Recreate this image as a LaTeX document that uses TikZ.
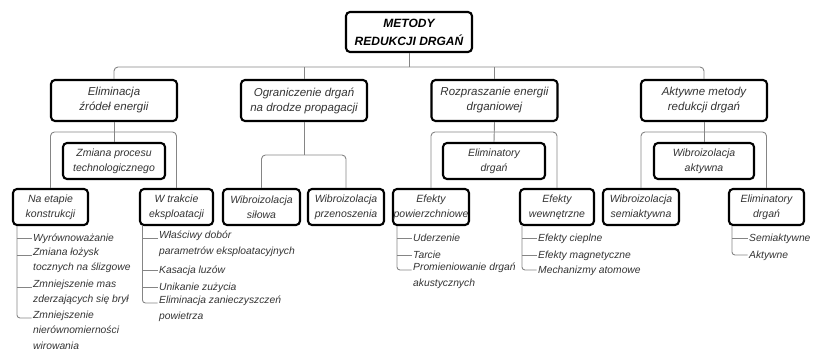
\documentclass[tikz,border=0pt]{standalone}
\usepackage{fontspec}
\setmainfont{Liberation Sans}
\definecolor{txt}{HTML}{333333}
\definecolor{cl}{HTML}{858585}
\begin{document}
\begin{tikzpicture}[x=1pt,y=-1pt,
  box/.style={draw=black, line width=2.1pt, rounded corners=4pt, fill=white, align=center, inner sep=0pt, text=txt},
  topbox/.style={box, text=black, minimum width=126pt, minimum height=40pt, font=\fontsize{12}{18}\selectfont\bfseries\itshape},
  lone/.style={box, minimum height=41pt, minimum width=126pt, font=\fontsize{11.5}{15}\selectfont\itshape},
  ltwo/.style={box, minimum height=36pt, font=\fontsize{10.5}{15}\selectfont\itshape},
  lthree/.style={box, minimum height=36pt, font=\fontsize{10.5}{15}\selectfont\itshape},
  conn/.style={draw=cl, line width=0.9pt, rounded corners=4pt},
  item/.style={anchor=north west, yshift=7.25pt, inner sep=0pt, align=left, text=txt, font=\fontsize{10.3}{15.5}\selectfont\itshape, execute at begin node=\strut},
]
\useasboundingbox (0,0) rectangle (819,354);

% ---- boxes
\node[topbox] (top) at (409,32) {METODY\\REDUKCJI DRGAŃ};

\node[lone] (e1) at (114,100.5) {Eliminacja\\źródeł energii};
\node[lone] (e2) at (304,100.5) {Ograniczenie drgań\\na drodze propagacji};
\node[lone] (e3) at (494.5,100.5) {Rozpraszanie energii\\drganiowej};
\node[lone] (e4) at (704,100.5) {Aktywne metody\\redukcji drgań};

\node[ltwo, minimum width=102pt] (z1) at (114,161) {Zmiana procesu\\technologicznego};
\node[ltwo, minimum width=102pt] (z3) at (494,161) {Eliminatory\\drgań};
\node[ltwo, minimum width=100pt] (z4) at (704,161) {Wibroizolacja\\aktywna};

\node[lthree, minimum width=75pt] (n1) at (50.5,207) {Na etapie\\konstrukcji};
\node[lthree, minimum width=73pt] (w1) at (176.5,207) {W trakcie\\eksploatacji};
\node[lthree, minimum width=77pt] (s1) at (261.5,207) {Wibroizolacja\\siłowa};
\node[lthree, minimum width=76pt] (p1) at (346,207) {Wibroizolacja\\przenoszenia};
\node[lthree, minimum width=76pt] (c0) at (431,207) {Efekty\\powierzchniowe};
\node[lthree, minimum width=74pt] (d0) at (557,207) {Efekty\\wewnętrzne};
\node[lthree, minimum width=76pt] (sa) at (641,207) {Wibroizolacja\\semiaktywna};
\node[lthree, minimum width=75pt] (ed) at (766.5,207) {Eliminatory\\drgań};

% ---- list items
\node[item] (a1) at (33,238) {Wyrównoważanie};
\node[item] (a2) at (33,255) {Zmiana łożysk\\tocznych na ślizgowe};
\node[item] (a3) at (33,287) {Zmniejszenie mas\\zderzających się brył};
\node[item] (a4) at (33,318) {Zmniejszenie\\nierównomierności\\wirowania};

\node[item] (b1) at (159,238) {Właściwy dobór\\parametrów eksploatacyjnych};
\node[item] (b2) at (159,270) {Kasacja luzów};
\node[item] (b3) at (159,287) {Unikanie zużycia};
\node[item] (b4) at (159,303) {Eliminacja zanieczyszczeń\\powietrza};

\node[item] (c1) at (413,238) {Uderzenie};
\node[item] (c2) at (413,255) {Tarcie};
\node[item] (c3) at (413,270) {Promieniowanie drgań\\akustycznych};

\node[item] (d1) at (538,238) {Efekty cieplne};
\node[item] (d2) at (538,255) {Efekty magnetyczne};
\node[item] (d3) at (538,270) {Mechanizmy atomowe};

\node[item] (g1) at (749,238) {Semiaktywne};
\node[item] (g2) at (749,255) {Aktywne};

% ---- main connectors
\coordinate (bus) at (409,67);
\draw[conn] (top.south) -- (bus);
\draw[conn] (e1.north) |- (bus) -| (e4.north);
\draw[conn] (e2.north) -- (e2.north |- bus);
\draw[conn] (e3.north) -- (e3.north |- bus);

% ---- group 1
\coordinate (f1) at (114,132);
\draw[conn] (e1.south) -- (z1.north);
\draw[conn] (n1.north) |- (f1) -| (w1.north);
% ---- group 2
\coordinate (f2) at (304,155);
\draw[conn] (e2.south) -- (f2);
\draw[conn] (s1.north) |- (f2) -| (p1.north);
% ---- group 3
\coordinate (f3) at (494,132);
\draw[conn] (e3.south) -- (z3.north);
\draw[conn] (c0.north) |- (f3) -| (d0.north);
% ---- group 4
\coordinate (f4) at (704,132);
\draw[conn] (e4.south) -- (z4.north);
\draw[conn] (sa.north) |- (f4) -| (ed.north);

% ---- list connectors
\foreach \n in {a1,a2,a3,a4,b1,b2,b3,b4,c1,c2,c3,d1,d2,d3,g1,g2}
  \coordinate (\n t) at ([xshift=-1.5pt,yshift=-7.25pt]\n.north west);
\coordinate (la) at ([xshift=5pt]n1.south west);
\coordinate (lb) at ([xshift=3.5pt]w1.south west);
\coordinate (lc) at ([xshift=5pt]c0.south west);
\coordinate (ld) at ([xshift=3pt]d0.south west);
\coordinate (lg) at ([xshift=4pt]ed.south west);

\draw[conn, rounded corners=3pt] (la) |- (a4t);
\foreach \n in {a1,a2,a3} \draw[conn] (la |- \n t) -- (\n t);
\draw[conn, rounded corners=3pt] (lb) |- (b4t);
\foreach \n in {b1,b2,b3} \draw[conn] (lb |- \n t) -- (\n t);
\draw[conn, rounded corners=3pt] (lc) |- (c3t);
\foreach \n in {c1,c2} \draw[conn] (lc |- \n t) -- (\n t);
\draw[conn, rounded corners=3pt] (ld) |- (d3t);
\foreach \n in {d1,d2} \draw[conn] (ld |- \n t) -- (\n t);
\draw[conn, rounded corners=3pt] (lg) |- (g2t);
\draw[conn] (lg |- g1t) -- (g1t);
\end{tikzpicture}
\end{document}
